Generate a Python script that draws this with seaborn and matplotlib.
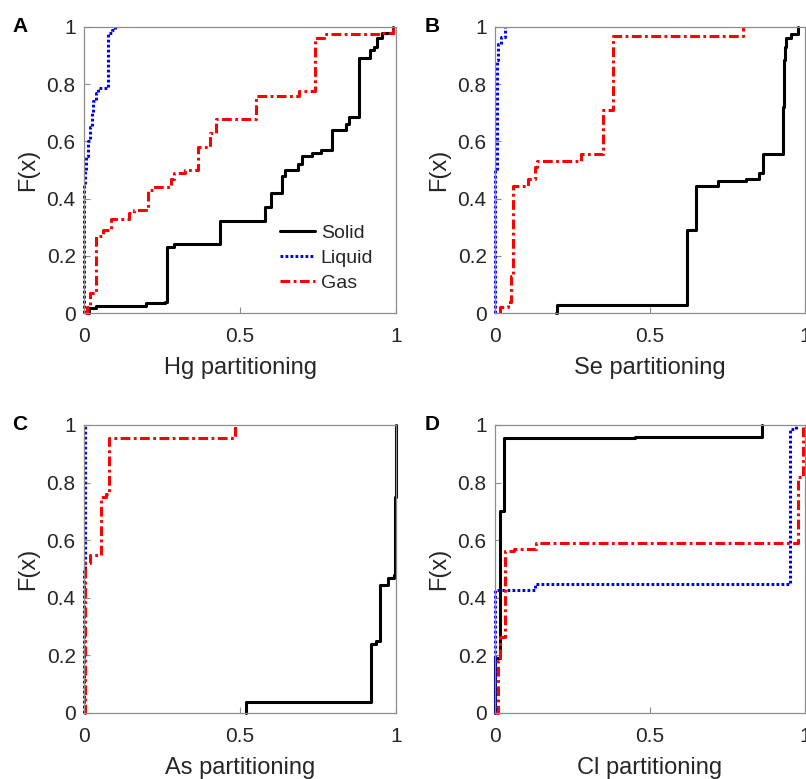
import matplotlib
matplotlib.use("Agg")
import matplotlib.pyplot as plt
import seaborn as sns

sns.set_style("white")
plt.rcParams["font.family"] = ["Liberation Sans", "DejaVu Sans"]
plt.rcParams["lines.scale_dashes"] = False

# ---------------- data (x = partitioning fraction, F = empirical CDF) ----------------
# Panel A: Hg
hg_solid_x = [0.01, 0.015, 0.04, 0.20, 0.26, 0.265, 0.29, 0.435, 0.58, 0.60, 0.635, 0.645,
              0.685, 0.70, 0.73, 0.76, 0.795, 0.84, 0.85, 0.882, 0.917, 0.93, 0.94, 0.955, 0.99]
hg_solid_F = [0, 0.017, 0.025, 0.035, 0.04, 0.23, 0.24, 0.32, 0.37, 0.42, 0.48, 0.50,
              0.52, 0.55, 0.56, 0.57, 0.64, 0.66, 0.685, 0.89, 0.92, 0.93, 0.96, 0.98, 1.0]
hg_liquid_x = [0, 0.0005, 0.003, 0.008, 0.014, 0.02, 0.025, 0.03, 0.038, 0.045, 0.078, 0.09, 0.1]
hg_liquid_F = [0, 0.45, 0.5, 0.55, 0.6, 0.65, 0.7, 0.74, 0.77, 0.785, 0.98, 0.99, 1.0]
hg_gas_x = [0.003, 0.01, 0.02, 0.04, 0.06, 0.085, 0.145, 0.16, 0.205, 0.22, 0.28, 0.29,
            0.325, 0.365, 0.405, 0.423, 0.55, 0.69, 0.74, 0.77, 0.95, 0.99]
hg_gas_F = [0, 0.02, 0.07, 0.27, 0.29, 0.33, 0.35, 0.36, 0.43, 0.44, 0.47, 0.49,
            0.50, 0.58, 0.63, 0.68, 0.76, 0.775, 0.96, 0.975, 0.98, 1.0]

# Panel B: Se
se_solid_x = [0.198, 0.20, 0.62, 0.649, 0.72, 0.81, 0.85, 0.865, 0.929, 0.932, 0.937, 0.94, 0.955, 0.978]
se_solid_F = [0, 0.028, 0.29, 0.445, 0.46, 0.47, 0.49, 0.555, 0.72, 0.885, 0.93, 0.96, 0.975, 1.0]
se_liquid_x = [0, 0.001, 0.005, 0.006, 0.008, 0.01, 0.02, 0.033]
se_liquid_F = [0, 0.5, 0.6, 0.745, 0.885, 0.94, 0.965, 1.0]
se_gas_x = [0.015, 0.017, 0.042, 0.05, 0.057, 0.107, 0.128, 0.135, 0.278, 0.348, 0.38, 0.80]
se_gas_F = [0, 0.02, 0.04, 0.13, 0.445, 0.47, 0.51, 0.53, 0.555, 0.71, 0.97, 1.0]

# Panel C: As
as_solid_x = [0.518, 0.52, 0.92, 0.935, 0.949, 0.975, 0.994, 0.998, 1.0]
as_solid_F = [0, 0.038, 0.24, 0.25, 0.444, 0.47, 0.48, 0.75, 1.0]
as_liquid_x = [0, 0.001, 0.002]
as_liquid_F = [0, 0.5, 1.0]
as_gas_x = [0, 0.003, 0.019, 0.053, 0.07, 0.081, 0.484]
as_gas_F = [0, 0.52, 0.55, 0.75, 0.76, 0.956, 1.0]

# Panel D: Cl
cl_solid_x = [0, 0.001, 0.016, 0.029, 0.45, 0.86]
cl_solid_F = [0, 0.19, 0.70, 0.955, 0.958, 1.0]
cl_liquid_x = [0, 0.001, 0.128, 0.95, 0.97]
cl_liquid_F = [0, 0.427, 0.448, 0.985, 1.0]
cl_gas_x = [0.004, 0.009, 0.011, 0.015, 0.031, 0.06, 0.131, 0.979, 0.995]
cl_gas_F = [0, 0.02, 0.18, 0.265, 0.563, 0.57, 0.591, 0.818, 1.0]

phases = ["Solid", "Liquid", "Gas"]
xlabels = ["Hg partitioning", "Se partitioning", "As partitioning", "Cl partitioning"]
panel_letters = ["A", "B", "C", "D"]
xticks = [0, 0.5, 1]
xticklabels = ["0", "0.5", "1"]
yticks = [0, 0.2, 0.4, 0.6, 0.8, 1]
yticklabels = ["0", "0.2", "0.4", "0.6", "0.8", "1"]

panels = [
    [(hg_solid_x, hg_solid_F), (hg_liquid_x, hg_liquid_F), (hg_gas_x, hg_gas_F)],
    [(se_solid_x, se_solid_F), (se_liquid_x, se_liquid_F), (se_gas_x, se_gas_F)],
    [(as_solid_x, as_solid_F), (as_liquid_x, as_liquid_F), (as_gas_x, as_gas_F)],
    [(cl_solid_x, cl_solid_F), (cl_liquid_x, cl_liquid_F), (cl_gas_x, cl_gas_F)],
]

# ---------------- style ----------------
W, H = 806, 779
fig = plt.figure(figsize=(W / 100, H / 100), dpi=100)

def frac_rect(l, t, r, b):
    return [l / W, 1 - b / H, (r - l) / W, (b - t) / H]

rects = [frac_rect(84, 27, 396, 313), frac_rect(495, 27, 805, 313),
         frac_rect(84, 425, 396, 713), frac_rect(495, 425, 805, 713)]
letter_pos = [(12, 27), (425, 27), (12, 424), (425, 424)]

styles = {
    "Solid": dict(color="#000000", linestyle="-"),
    "Liquid": dict(color="#0000ff", linestyle=(0, (2.0, 1.6))),
    "Gas": dict(color="#ff0000", linestyle=(0, (7.0, 2.5, 2.0, 2.5))),
}
spine_c = "#8c8c8c"
text_c = "#262626"

for i, (rect, series) in enumerate(zip(rects, panels)):
    ax = fig.add_axes(rect)
    for name, (x, F) in zip(phases, series):
        sns.lineplot(x=x, y=F, ax=ax, estimator=None, sort=False,
                     drawstyle="steps-post", lw=2.2, label=name,
                     clip_on=False, **styles[name])
    ax.set_xlim(0, 1)
    ax.set_ylim(0, 1)
    ax.set_xticks(xticks)
    ax.set_xticklabels(xticklabels)
    ax.set_yticks(yticks)
    ax.set_yticklabels(yticklabels)
    ax.tick_params(axis="both", direction="in", length=4, width=0.8, color=spine_c,
                   labelsize=15, labelcolor=text_c, left=True, bottom=True,
                   top=False, right=False)
    ax.tick_params(axis="y", pad=6)
    ax.tick_params(axis="x", pad=10)
    for s in ax.spines.values():
        s.set_color(spine_c)
        s.set_linewidth(0.9)
        s.set_visible(True)
    ax.set_xlabel(xlabels[i], fontsize=17, color=text_c, labelpad=8)
    ax.set_ylabel("F(x)", fontsize=17, color=text_c, labelpad=5)
    if i == 0:
        ax.legend(loc="center left", bbox_to_anchor=(0.628, 0.192), frameon=False,
                  fontsize=14, handlelength=1.8, handletextpad=0.3,
                  labelspacing=0.4, borderpad=0, borderaxespad=0)
    else:
        lg = ax.get_legend()
        if lg is not None:
            lg.remove()
    lx, ly = letter_pos[i]
    fig.text(lx / W, 1 - ly / H, panel_letters[i], fontsize=15, fontweight="bold",
             ha="left", va="center", color="#000000")

fig.savefig("out.png", dpi=100)
